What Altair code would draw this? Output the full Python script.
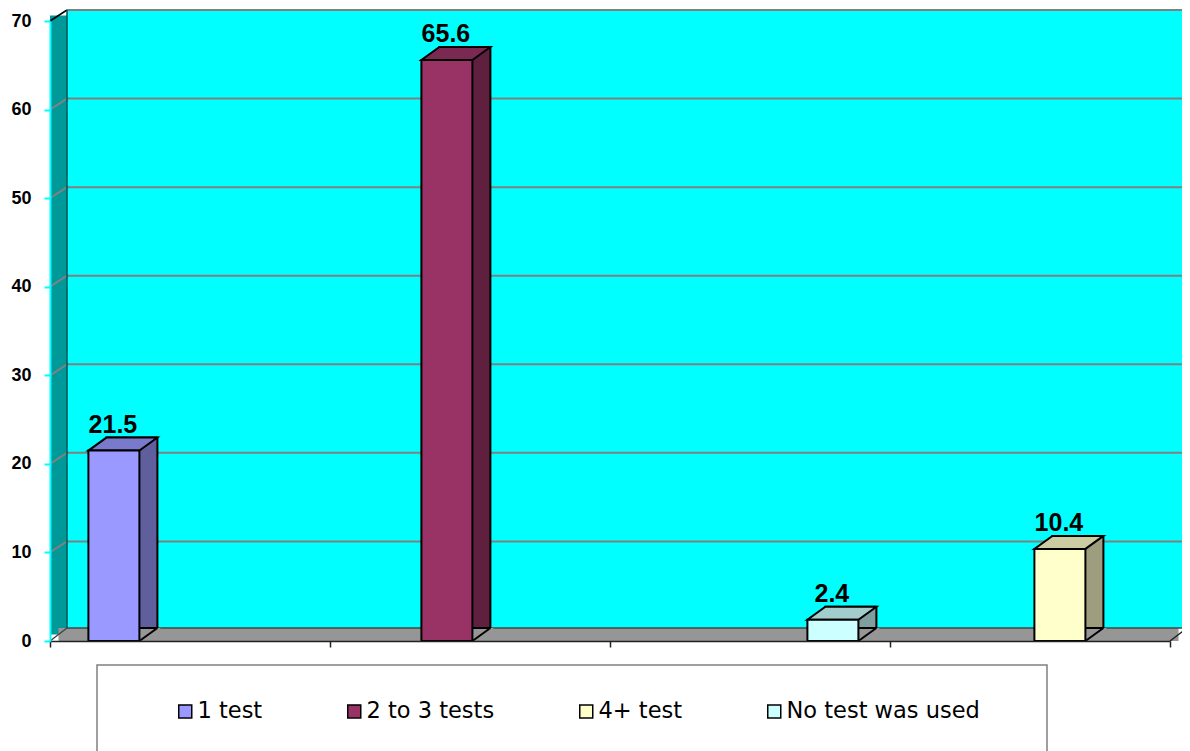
import altair as alt
import pandas as pd

# ---- data ----
categories = ["1", "2", "3", "4"]
series = ["1 test", "2 to 3 tests", "No test was used", "4+ test"]
values = [21.5, 65.6, 2.4, 10.4]

series_order = ["1 test", "2 to 3 tests", "4+ test", "No test was used"]
front_colors = ["#9999FF", "#993366", "#FFFFCC", "#CCFFFF"]
top_colors = ["#7A7ACC", "#7A2952", "#CCCCA3", "#A3CCCC"]
side_colors = ["#5F5F9E", "#5F203F", "#9E9E7F", "#7F9E9E"]
y_ticks = [0, 10, 20, 30, 40, 50, 60, 70]
grid_values = [10, 20, 30, 40, 50, 60]

# ---- layout / style constants (pixels) ----
W, H = 1120, 620
DX, DY = 17, -11      # wall depth
FDY = -13             # floor depth
BDX, BDY = 18, -13    # bar depth
BW = 51               # bar width
BAND = W / len(categories)

# 3D bar faces as symbol paths (unit = R px)
R = 34.0
SIZE = (2 * R) ** 2
hw = BW / 2
top_path = "M {a} 0 L {b} 0 L {c} {d} L {e} {d} Z".format(
    a=-hw / R, b=hw / R, c=(hw + BDX) / R, d=BDY / R, e=(-hw + BDX) / R)
floor_poly = "M {a} 0 L {c} {d} L {f} {d} L {f} 0 Z".format(
    a=hw / R, c=(hw + BDX) / R, d=BDY / R, f=(hw + BDX + 3) / R)
diag_path = "M {a} 0 L {c} {d}".format(a=hw / R, c=(hw + BDX) / R, d=BDY / R)

df = pd.DataFrame({"cat": categories, "series": series, "value": values})
one = pd.DataFrame({"k": [0]})
grid_df = pd.DataFrame({"v": grid_values})

yscale = alt.Scale(domain=[0, 70], nice=False, zero=True)

yaxis = alt.Axis(
    values=y_ticks, title=None, grid=False,
    domainColor="#00FFFF", domainWidth=2,
    tickColor="#00FFFF", tickWidth=2, tickSize=6,
    labelFont="Liberation Sans", labelFontSize=18, labelFontWeight="bold",
    labelColor="black", labelPadding=13, zindex=1,
)
xaxis = alt.Axis(
    labels=False, title=None, grid=False, tickBand="extent",
    domainColor="#222222", domainWidth=1.5,
    tickColor="#222222", tickWidth=1.5, tickSize=6, zindex=1,
)

xenc = alt.X("cat:N", sort=categories,
             scale=alt.Scale(paddingInner=0, paddingOuter=0), axis=xaxis)


def yq(field):
    return alt.Y(field, scale=yscale, axis=yaxis)


def yd(v):
    return alt.YDatum(v, scale=yscale, axis=yaxis)


def xoff(shift):
    return alt.XOffset(
        "series:N",
        scale=alt.Scale(type="band", domain=series_order, range=[shift, BAND + shift],
                        paddingInner=0, paddingOuter=0.6415, align=0.55),
    )


# ---- walls / floor (decoration) ----
back_wall = alt.Chart(one).mark_rect(color="#00FFFF", yOffset=DY, y2Offset=FDY).encode(
    x=alt.value(DX), x2=alt.value(W + DX), y=yd(70), y2=alt.Y2Datum(0),
)
left_wall = alt.Chart(one).mark_rect(color="#009999", yOffset=DY / 2, y2Offset=FDY / 2).encode(
    x=alt.value(0), x2=alt.value(DX), y=yd(70), y2=alt.Y2Datum(0),
)
grid = alt.Chart(grid_df).mark_rule(color="#808080", strokeWidth=2, yOffset=DY).encode(
    x=alt.value(DX), x2=alt.value(W + DX), y=yq("v:Q"),
)
grid_diag = alt.Chart(grid_df).mark_rule(color="#808080", strokeWidth=2, y2Offset=DY).encode(
    x=alt.value(0), x2=alt.value(DX), y=yq("v:Q"), y2="v:Q",
)
top_edge = alt.Chart(one).mark_rule(color="#808080", strokeWidth=2, yOffset=DY).encode(
    x=alt.value(DX), x2=alt.value(W + DX), y=yd(70),
)
top_diag = alt.Chart(one).mark_rule(color="black", strokeWidth=1.5, y2Offset=DY).encode(
    x=alt.value(0), x2=alt.value(DX), y=yd(70), y2=alt.Y2Datum(70),
)
wall_edge = alt.Chart(one).mark_rule(color="#005555", strokeWidth=1.5, yOffset=DY, y2Offset=FDY).encode(
    x=alt.value(DX), y=yd(70), y2=alt.Y2Datum(0),
)
floor = alt.Chart(one).mark_rect(color="#969696", y2Offset=FDY).encode(
    x=alt.value(DX / 2), x2=alt.value(W + DX / 2), y=yd(0), y2=alt.Y2Datum(0),
)
floor_edge = alt.Chart(one).mark_rule(color="#444444", strokeWidth=1.5, yOffset=FDY).encode(
    x=alt.value(DX), x2=alt.value(W + DX), y=yd(0),
)
floor_diag = alt.Chart(one).mark_rule(color="#222222", strokeWidth=1.5, y2Offset=FDY).encode(
    x=alt.value(W), x2=alt.value(W + DX), y=yd(0), y2=alt.Y2Datum(0),
)
floor_diag_l = alt.Chart(one).mark_rule(color="#444444", strokeWidth=1.5, y2Offset=FDY).encode(
    x=alt.value(0), x2=alt.value(DX), y=yd(0), y2=alt.Y2Datum(0),
)

# ---- bars ----
bars_side = alt.Chart(df).mark_bar(
    width=BW, stroke="black", strokeWidth=2, yOffset=BDY
).encode(
    x=xenc, xOffset=xoff(BDX), y=yq("value:Q"),
    color=alt.Color("series:N", scale=alt.Scale(domain=series_order, range=side_colors), legend=None),
)
bars_floor_fix = alt.Chart(df).mark_point(
    shape=floor_poly, size=SIZE, filled=True, fill="#969696", strokeWidth=0, opacity=1,
).encode(
    x=xenc, xOffset=xoff(0), y=yd(0),
)
bars_side_diag = alt.Chart(df).mark_point(
    shape=diag_path, size=SIZE, filled=False, stroke="black", strokeWidth=2, opacity=1,
).encode(
    x=xenc, xOffset=xoff(0), y=yd(0),
)
bars_top = alt.Chart(df).mark_point(
    shape=top_path, size=SIZE, filled=True, stroke="black", strokeWidth=2, opacity=1,
).encode(
    x=xenc, xOffset=xoff(0), y=yq("value:Q"),
    color=alt.Color("series:N", scale=alt.Scale(domain=series_order, range=top_colors), legend=None),
)

legend = alt.Legend(
    title=None, orient="none", legendX=124, legendY=679, direction="horizontal",
    symbolType="square", symbolSize=169, symbolStrokeColor="black", symbolStrokeWidth=1.5,
    labelFont="DejaVu Sans", labelFontSize=22.5, labelColor="black", labelLimit=600,
    columnPadding=80, labelOffset=1, padding=0, zindex=1,
)

bars_front = alt.Chart(df).mark_bar(width=BW, stroke="black", strokeWidth=2).encode(
    x=xenc, xOffset=xoff(0), y=yq("value:Q"),
    color=alt.Color("series:N", scale=alt.Scale(domain=series_order, range=front_colors), legend=legend),
)

labels = alt.Chart(df).mark_text(
    font="Liberation Sans", fontSize=25, fontWeight="bold", color="black",
    baseline="alphabetic", dy=-18, dx=-1,
).encode(
    x=xenc, xOffset=xoff(0), y=yq("value:Q"),
    text=alt.Text("value:Q", format=".1f"),
)

legend_box = alt.Chart(one).mark_rect(fill="white", stroke="#808080", strokeWidth=1.5).encode(
    x=alt.value(47), x2=alt.value(997), y=alt.value(644), y2=alt.value(760),
)

chart = alt.layer(
    back_wall, left_wall, grid, top_edge, grid_diag, top_diag, wall_edge,
    floor, floor_edge, floor_diag_l, floor_diag,
    bars_side, bars_floor_fix, bars_side_diag, bars_top, bars_front, labels, legend_box,
).resolve_scale(
    xOffset="independent", color="independent"
).properties(
    width=W, height=H,
    autosize=alt.AutoSizeParams(type="none"),
    padding={"left": 42, "top": 13, "right": 12, "bottom": 110},
    background="white",
).configure_view(stroke=None)

chart.save("out.html", embed_options={"renderer": "svg", "actions": False})
